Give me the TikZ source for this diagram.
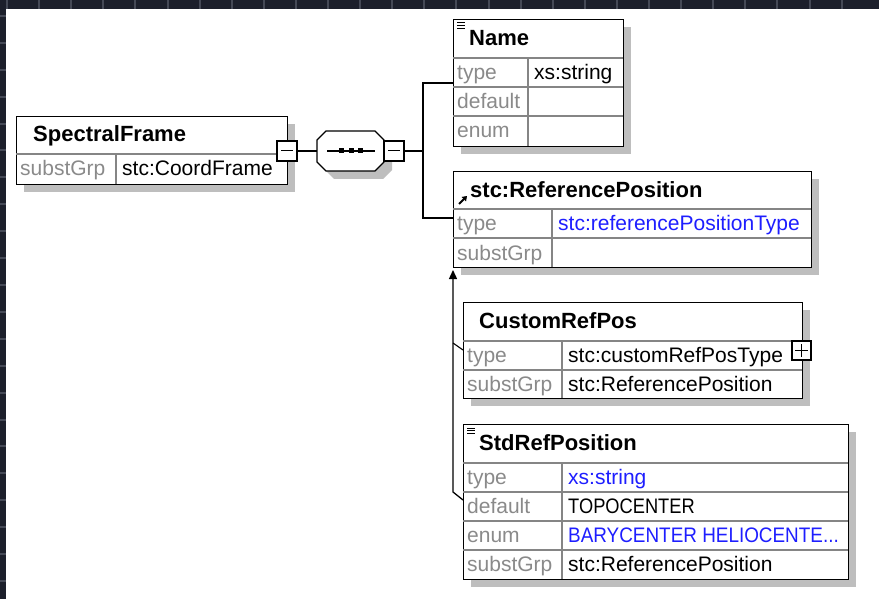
\documentclass[tikz,border=0pt]{standalone}
\usepackage{fontspec}
\setmainfont{Liberation Sans}
\usetikzlibrary{arrows.meta}

\definecolor{bgdark}{HTML}{1C1F2B}
\definecolor{bgline}{HTML}{454956}
\definecolor{shadowgray}{HTML}{BEBEBE}
\definecolor{rulegray}{HTML}{858585}
\definecolor{lblgray}{HTML}{8A8A8A}
\definecolor{linkblue}{HTML}{1E1EFF}

% box with drop shadow: name, x1, y1, x2, y2
\newcommand\schemabox[5]{%
  \path[fill=shadowgray] (#4,#3+8) rectangle (#4+8,#5+8);
  \path[fill=shadowgray] (#2+8,#5) rectangle (#4+8,#5+8);
  \node[boxframe, anchor=north west, minimum width={(#4-#2)*1pt},
        minimum height={(#5-#3)*1pt}] (#1) at (#2,#3) {};
}
% horizontal rule inside a box: x1, x2, y
\newcommand\rowrule[3]{\draw[cellrule] (#1,#3) -- (#2,#3);}
% "documentation" marker: three short strokes
\newcommand\docmark[2]{%
  \draw[line width=1pt] (#1,#2) -- ++(8,0) (#1,#2+2.6) -- ++(8,0) (#1,#2+5.2) -- ++(8,0);
}

\begin{document}
\begin{tikzpicture}[x=1pt,y=-1pt,
  boxframe/.style={draw=black, line width=1.3pt, fill=white, inner sep=0pt, rectangle},
  cellrule/.style={draw=rulegray, line width=1.1pt},
  conn/.style={draw=black, line width=1.3pt},
  txt/.style={anchor=base west, inner sep=0pt, font=\fontsize{21}{21}\selectfont},
  lbl/.style={txt, text=lblgray},
  val/.style={txt, text=black},
  lnk/.style={txt, text=linkblue},
  head/.style={anchor=base west, inner sep=0pt, font=\fontsize{22}{22}\selectfont\bfseries},
  toggle/.style={draw=black, line width=1.1pt, fill=white, inner sep=0pt,
                 minimum width=20pt, minimum height=20pt, rectangle}]

\useasboundingbox (0,0) rectangle (879,599);

% window background
\fill[bgdark] (0,0) rectangle (879,599);
\fill[white] (6,9) rectangle (879,599);
\foreach \i in {0,...,26} \fill[bgline] (6+32.1*\i,0) rectangle ++(2,9);
\foreach \i in {0,...,21} \fill[bgline] (0,15+26.9*\i) rectangle ++(6,2);

% ---------- SpectralFrame ----------
\schemabox{frame}{16}{116}{287}{184}
\rowrule{16}{287}{154}
\draw[cellrule] (116,154) -- (116,184);
\node[head] (frameT) at (33,142) {SpectralFrame};
\node[lbl] (frameL1) at (20,176) {substGrp};
\node[val] (frameV1) at (122,176) {stc:CoordFrame};

% ---------- sequence compositor ----------
\path[fill=shadowgray] (334,139) -- (383,139) -- (392,148) -- (392,170) -- (383,179)
  -- (334,179) -- (325,170) -- (325,148) -- cycle;
\node[toggle] (tg1) at (287,151) {};
\draw[line width=1pt] (281,151) -- (293,151);
\draw[fill=white, line width=1.3pt] (326,131) -- (375,131) -- (384,140) -- (384,162)
  -- (375,171) -- (326,171) -- (317,162) -- (317,140) -- cycle;
\coordinate (seqW) at (317,151);
\coordinate (seqE) at (384,151);
\draw[line width=1.1pt] (327,151) -- (375,151);
\foreach \dx in {341,351,360} \fill (\dx-2.5,148.5) rectangle ++(5,5);
\node[toggle] (tg2) at (394,151) {};
\draw[line width=1pt] (388,151) -- (400,151);
\draw[conn] (tg1.east) -- (seqW);
\coordinate (fork) at (423,151);
\draw[conn] (tg2.east) -- (fork);

% ---------- Name ----------
\schemabox{name}{453}{19}{623}{146}
\rowrule{453}{623}{58}
\rowrule{453}{623}{87}
\rowrule{453}{623}{116}
\draw[cellrule] (528,58) -- (528,146);
\docmark{457}{23}
\node[head] (nameT) at (469,46) {Name};
\node[lbl] (nameL1) at (457,80) {type};
\node[val] (nameV1) at (534,80) {xs:string};
\node[lbl] (nameL2) at (457,109) {default};
\node[lbl] (nameL3) at (457,138) {enum};

% ---------- stc:ReferencePosition ----------
\schemabox{ref}{453}{171}{811}{267}
\rowrule{453}{811}{209}
\rowrule{453}{811}{238}
\draw[cellrule] (552,209) -- (552,267);
\draw[line width=1.8pt, -{Triangle[length=4.5pt,width=6pt]}] (459,204) -- (467,196);
\node[head] (refT) at (470,197) {stc:ReferencePosition};
\node[lbl] (refL1) at (457,231) {type};
\node[lnk] (refV1) at (558,231) {stc:referencePositionType};
\node[lbl] (refL2) at (457,260) {substGrp};

% connectors from the sequence to its children
\coordinate (nameIn) at (453,83);
\coordinate (refIn) at (453,218);
\draw[conn] (nameIn) -| (fork) |- (refIn);

% ---------- CustomRefPos ----------
\schemabox{cust}{463}{302}{802}{398}
\rowrule{463}{802}{341}
\rowrule{463}{802}{370}
\draw[cellrule] (562,341) -- (562,398);
\node[head] (custT) at (479,328) {CustomRefPos};
\node[lbl] (custL1) at (467,362) {type};
\node[val] (custV1) at (568,362) {stc:customRefPosType};
\node[lbl] (custL2) at (467,391) {substGrp};
\node[val] (custV2) at (568,391) {stc:ReferencePosition};
\node[toggle, minimum width=19pt, minimum height=19pt] (tg3) at (801.5,350.5) {};
\draw[line width=1pt] (795,350.5) -- (808,350.5) (801.5,344) -- (801.5,357);

% ---------- StdRefPosition ----------
\schemabox{std}{463}{424}{848}{579}
\rowrule{463}{848}{463}
\rowrule{463}{848}{492}
\rowrule{463}{848}{521}
\rowrule{463}{848}{550}
\draw[cellrule] (562,463) -- (562,579);
\docmark{467}{428}
\node[head] (stdT) at (479,450) {StdRefPosition};
\node[lbl] (stdL1) at (467,484) {type};
\node[lnk] (stdV1) at (568,484) {xs:string};
\node[lbl] (stdL2) at (467,513) {default};
\node[val] (stdV2) at (568,513) {\scalebox{0.87}[1]{TOPOCENTER}};
\node[lbl] (stdL3) at (467,542) {enum};
\node[lnk] (stdV3) at (568,542) {\scalebox{0.9}[1]{BARYCENTER HELIOCENTE...}};
\node[lbl] (stdL4) at (467,571) {substGrp};
\node[val] (stdV4) at (568,571) {stc:ReferencePosition};

% substitution group members pointing to the head element
\coordinate (stdIn) at (463,500);
\coordinate (custIn) at (463,350);
\coordinate (bus) at (453,492);
\coordinate (busTap) at (453,343);
\coordinate (refBase) at (453,270);
\draw[line width=1.3pt, -{Triangle[length=9pt,width=8pt]}] (stdIn) -- (bus) -- (refBase);
\draw[line width=1.1pt] (custIn) -- (busTap);

\end{tikzpicture}
\end{document}
